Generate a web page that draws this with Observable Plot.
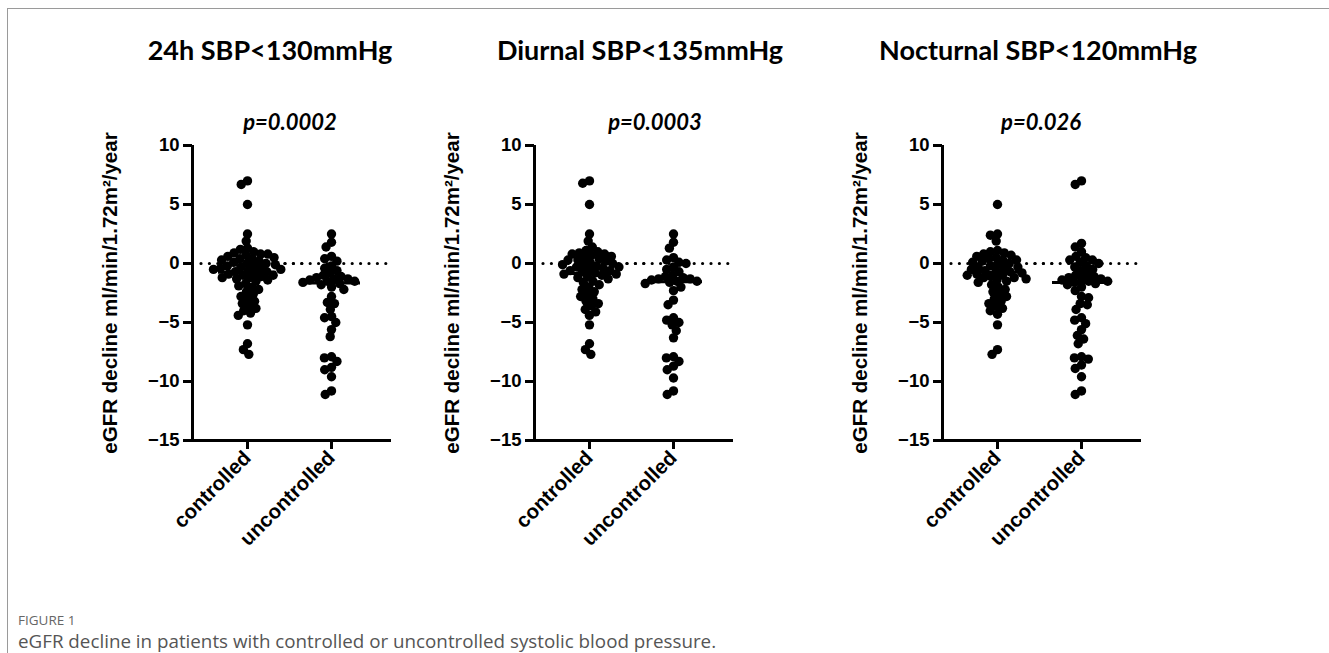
<!DOCTYPE html>
<html><head><meta charset="utf-8">
<script src="https://cdn.jsdelivr.net/npm/d3@7"></script>
<script src="https://cdn.jsdelivr.net/npm/@observablehq/plot@0.6"></script>
<style>
html,body{margin:0;padding:0;background:#fff}
body{width:1329px;height:653px;overflow:hidden;position:relative;font-family:"Liberation Sans",Arial,sans-serif}
#frame{position:absolute;left:7px;top:8px;width:1340px;height:660px;border-left:1.5px solid #9a9a9a;border-top:1.5px solid #9a9a9a}
.title{position:absolute;top:36px;line-height:1;font-family:Lato,sans-serif;font-weight:700;font-size:27px;transform:translateX(-50%);white-space:nowrap;color:#000}
.pval{position:absolute;top:111px;line-height:1;font-family:Lato,sans-serif;font-weight:700;font-style:italic;font-size:22px;transform:translateX(-50%);white-space:nowrap;color:#000}
.panel{position:absolute;top:130px}
.panel svg{overflow:visible}
.figlabel{position:absolute;left:18px;top:614px;line-height:1;font-family:"Open Sans",sans-serif;font-size:13.5px;color:#666}
.caption{position:absolute;left:18px;top:632px;line-height:1;font-family:"Open Sans",sans-serif;font-size:18.8px;color:#555}
</style></head>
<body>
<div id="frame"></div>
<div id="root"></div>
<div class="figlabel">FIGURE 1</div>
<div class="caption">eGFR decline in patients with controlled or uncontrolled systolic blood pressure.</div>
<script>
const panelTitles = ["24h SBP<130mmHg", "Diurnal SBP<135mmHg", "Nocturnal SBP<120mmHg"];
const pValues = ["p=0.0002", "p=0.0003", "p=0.026"];
const groups = ["controlled", "uncontrolled"];
const yTicks = [-15, -10, -5, 0, 5, 10];
const yLabel = "eGFR decline ml/min/1.72m²/year";

const h24Controlled = [7.0, 6.7, 5.0, 2.5, 1.9, 1.3, 1.2, 1.0, 0.9, 0.8, 0.8, 0.7, 0.6, 0.5, 0.4, 0.4, 0.3, 0.2, 0.1, 0.0, 0.0, -0.1, -0.2, -0.2, -0.3, -0.4, -0.4, -0.5, -0.5, -0.6, -0.7, -0.7, -0.8, -0.9, -1.0, -1.0, -1.1, -1.2, -1.2, -1.3, -1.4, -1.5, -1.7, -1.9, -2.0, -2.2, -2.4, -2.6, -2.8, -3.0, -3.2, -3.4, -3.6, -3.8, -4.0, -4.2, -4.4, -5.2, -6.8, -7.3, -7.7];
const h24Uncontrolled = [2.5, 1.8, 1.4, 0.6, 0.4, 0.2, -0.2, -0.4, -0.6, -0.8, -1.0, -1.1, -1.2, -1.3, -1.3, -1.4, -1.5, -1.5, -1.6, -1.7, -1.8, -2.0, -2.2, -2.8, -3.3, -3.4, -3.9, -4.5, -4.6, -5.0, -5.6, -6.2, -7.9, -8.0, -8.3, -8.8, -9.0, -9.6, -10.8, -11.1];
const diurnalControlled = [7.0, 6.8, 5.0, 2.5, 1.9, 1.4, 1.1, 1.0, 0.9, 0.8, 0.8, 0.7, 0.6, 0.5, 0.4, 0.3, 0.3, 0.2, 0.1, 0.0, -0.1, -0.1, -0.2, -0.3, -0.3, -0.4, -0.5, -0.6, -0.6, -0.7, -0.8, -0.9, -0.9, -1.0, -1.1, -1.2, -1.3, -1.5, -1.6, -1.8, -2.0, -2.2, -2.4, -2.6, -2.8, -3.0, -3.2, -3.4, -3.6, -3.9, -4.1, -4.4, -5.2, -6.8, -7.3, -7.7];
const diurnalUncontrolled = [2.5, 1.8, 1.3, 0.5, 0.3, 0.1, 0.0, -0.3, -0.5, -0.7, -1.0, -1.1, -1.2, -1.3, -1.3, -1.4, -1.5, -1.5, -1.6, -1.7, -2.0, -2.3, -3.1, -3.5, -4.6, -4.8, -5.0, -5.2, -5.7, -6.3, -7.9, -8.0, -8.3, -8.7, -9.0, -9.7, -10.8, -11.1];
const nocturnalControlled = [5.0, 2.5, 2.4, 1.9, 1.1, 1.0, 0.9, 0.8, 0.7, 0.6, 0.5, 0.4, 0.3, 0.3, 0.2, 0.1, 0.0, -0.1, -0.2, -0.3, -0.3, -0.4, -0.5, -0.6, -0.7, -0.7, -0.8, -0.9, -1.0, -1.0, -1.1, -1.2, -1.2, -1.3, -1.4, -1.5, -1.6, -1.8, -2.0, -2.2, -2.4, -2.6, -2.8, -3.0, -3.2, -3.4, -3.6, -3.8, -4.0, -4.3, -5.2, -7.3, -7.7];
const nocturnalUncontrolled = [7.0, 6.7, 1.7, 1.4, 1.0, 0.6, 0.5, 0.3, 0.3, 0.1, 0.0, -0.2, -0.3, -0.5, -0.6, -0.9, -1.0, -1.1, -1.2, -1.3, -1.3, -1.4, -1.5, -1.5, -1.6, -1.7, -1.8, -2.0, -2.3, -2.8, -2.9, -3.4, -3.5, -3.9, -4.6, -4.8, -5.1, -5.6, -6.1, -6.4, -6.8, -7.9, -8.0, -8.1, -8.6, -8.9, -9.6, -10.8, -11.1];

const h24Means = [-0.75, -1.65];
const diurnalMeans = [-0.85, -1.55];
const nocturnalMeans = [-0.75, -1.6];

const panelsData = [
  [h24Controlled, h24Uncontrolled, h24Means],
  [diurnalControlled, diurnalUncontrolled, diurnalMeans],
  [nocturnalControlled, nocturnalUncontrolled, nocturnalMeans]
];

const panelLeft = [82, 424, 832];
const titleCenter = [270, 640, 1038];
const pCenter = [290, 655, 1041];

function makePanel(ctrl, unctrl, means) {
  const pts = [
    ...ctrl.map(v => ({group: groups[0], value: v})),
    ...unctrl.map(v => ({group: groups[1], value: v}))
  ];
  const mean = groups.map((g, i) => ({group: g, value: means[i]}));
  return Plot.plot({
    width: 314, height: 440,
    marginLeft: 110, marginRight: 10, marginTop: 15, marginBottom: 130,
    style: {fontFamily: "'Liberation Sans', Arial, sans-serif", fontWeight: "bold", color: "#000", background: "transparent", overflow: "visible"},
    y: {domain: [-15, 10]},
    x: {domain: [0, 1], axis: null},
    fx: {domain: groups, paddingInner: -0.3095, paddingOuter: 0, label: null},
    marks: [
      Plot.ruleY([0], {stroke: "#000", strokeWidth: 3.2, strokeDasharray: "0,8.4", strokeLinecap: "round", insetLeft: 9}),
      Plot.dot(pts, Plot.dodgeX({anchor: "middle", padding: -2.2}, {fx: "group", y: "value", r: 4.7, fill: "#000"})),
      Plot.tickY(mean, {fx: "group", y: "value", stroke: "#000", strokeWidth: 3, insetLeft: 26, insetRight: 26}),
      Plot.ruleY([-15], {stroke: "#000", strokeWidth: 3, insetRight: -5}),
      Plot.ruleX([0], {fx: [groups[0]], stroke: "#000", strokeWidth: 3}),
      Plot.axisY({ticks: yTicks, tickSize: 9, tickPadding: 4, fontSize: 18.5, strokeWidth: 3, label: null}),
      Plot.axisY({ticks: [], label: yLabel, labelAnchor: "center", labelArrow: "none", labelOffset: 90, fontSize: 20.5}),
      Plot.axisFx({anchor: "bottom", tickSize: 9, tickPadding: 5, tickRotate: -45, fontSize: 20.5, strokeWidth: 3, label: null})
    ]
  });
}

const root = document.getElementById("root");
panelsData.forEach((d, i) => {
  const t = document.createElement("div");
  t.className = "title"; t.style.left = titleCenter[i] + "px"; t.textContent = panelTitles[i];
  document.body.appendChild(t);
  const p = document.createElement("div");
  p.className = "pval"; p.style.left = pCenter[i] + "px"; p.textContent = pValues[i];
  document.body.appendChild(p);
  const wrap = document.createElement("div");
  wrap.className = "panel"; wrap.style.left = panelLeft[i] + "px";
  wrap.appendChild(makePanel(d[0], d[1], d[2]));
  root.appendChild(wrap);
});
</script>
</body></html>
